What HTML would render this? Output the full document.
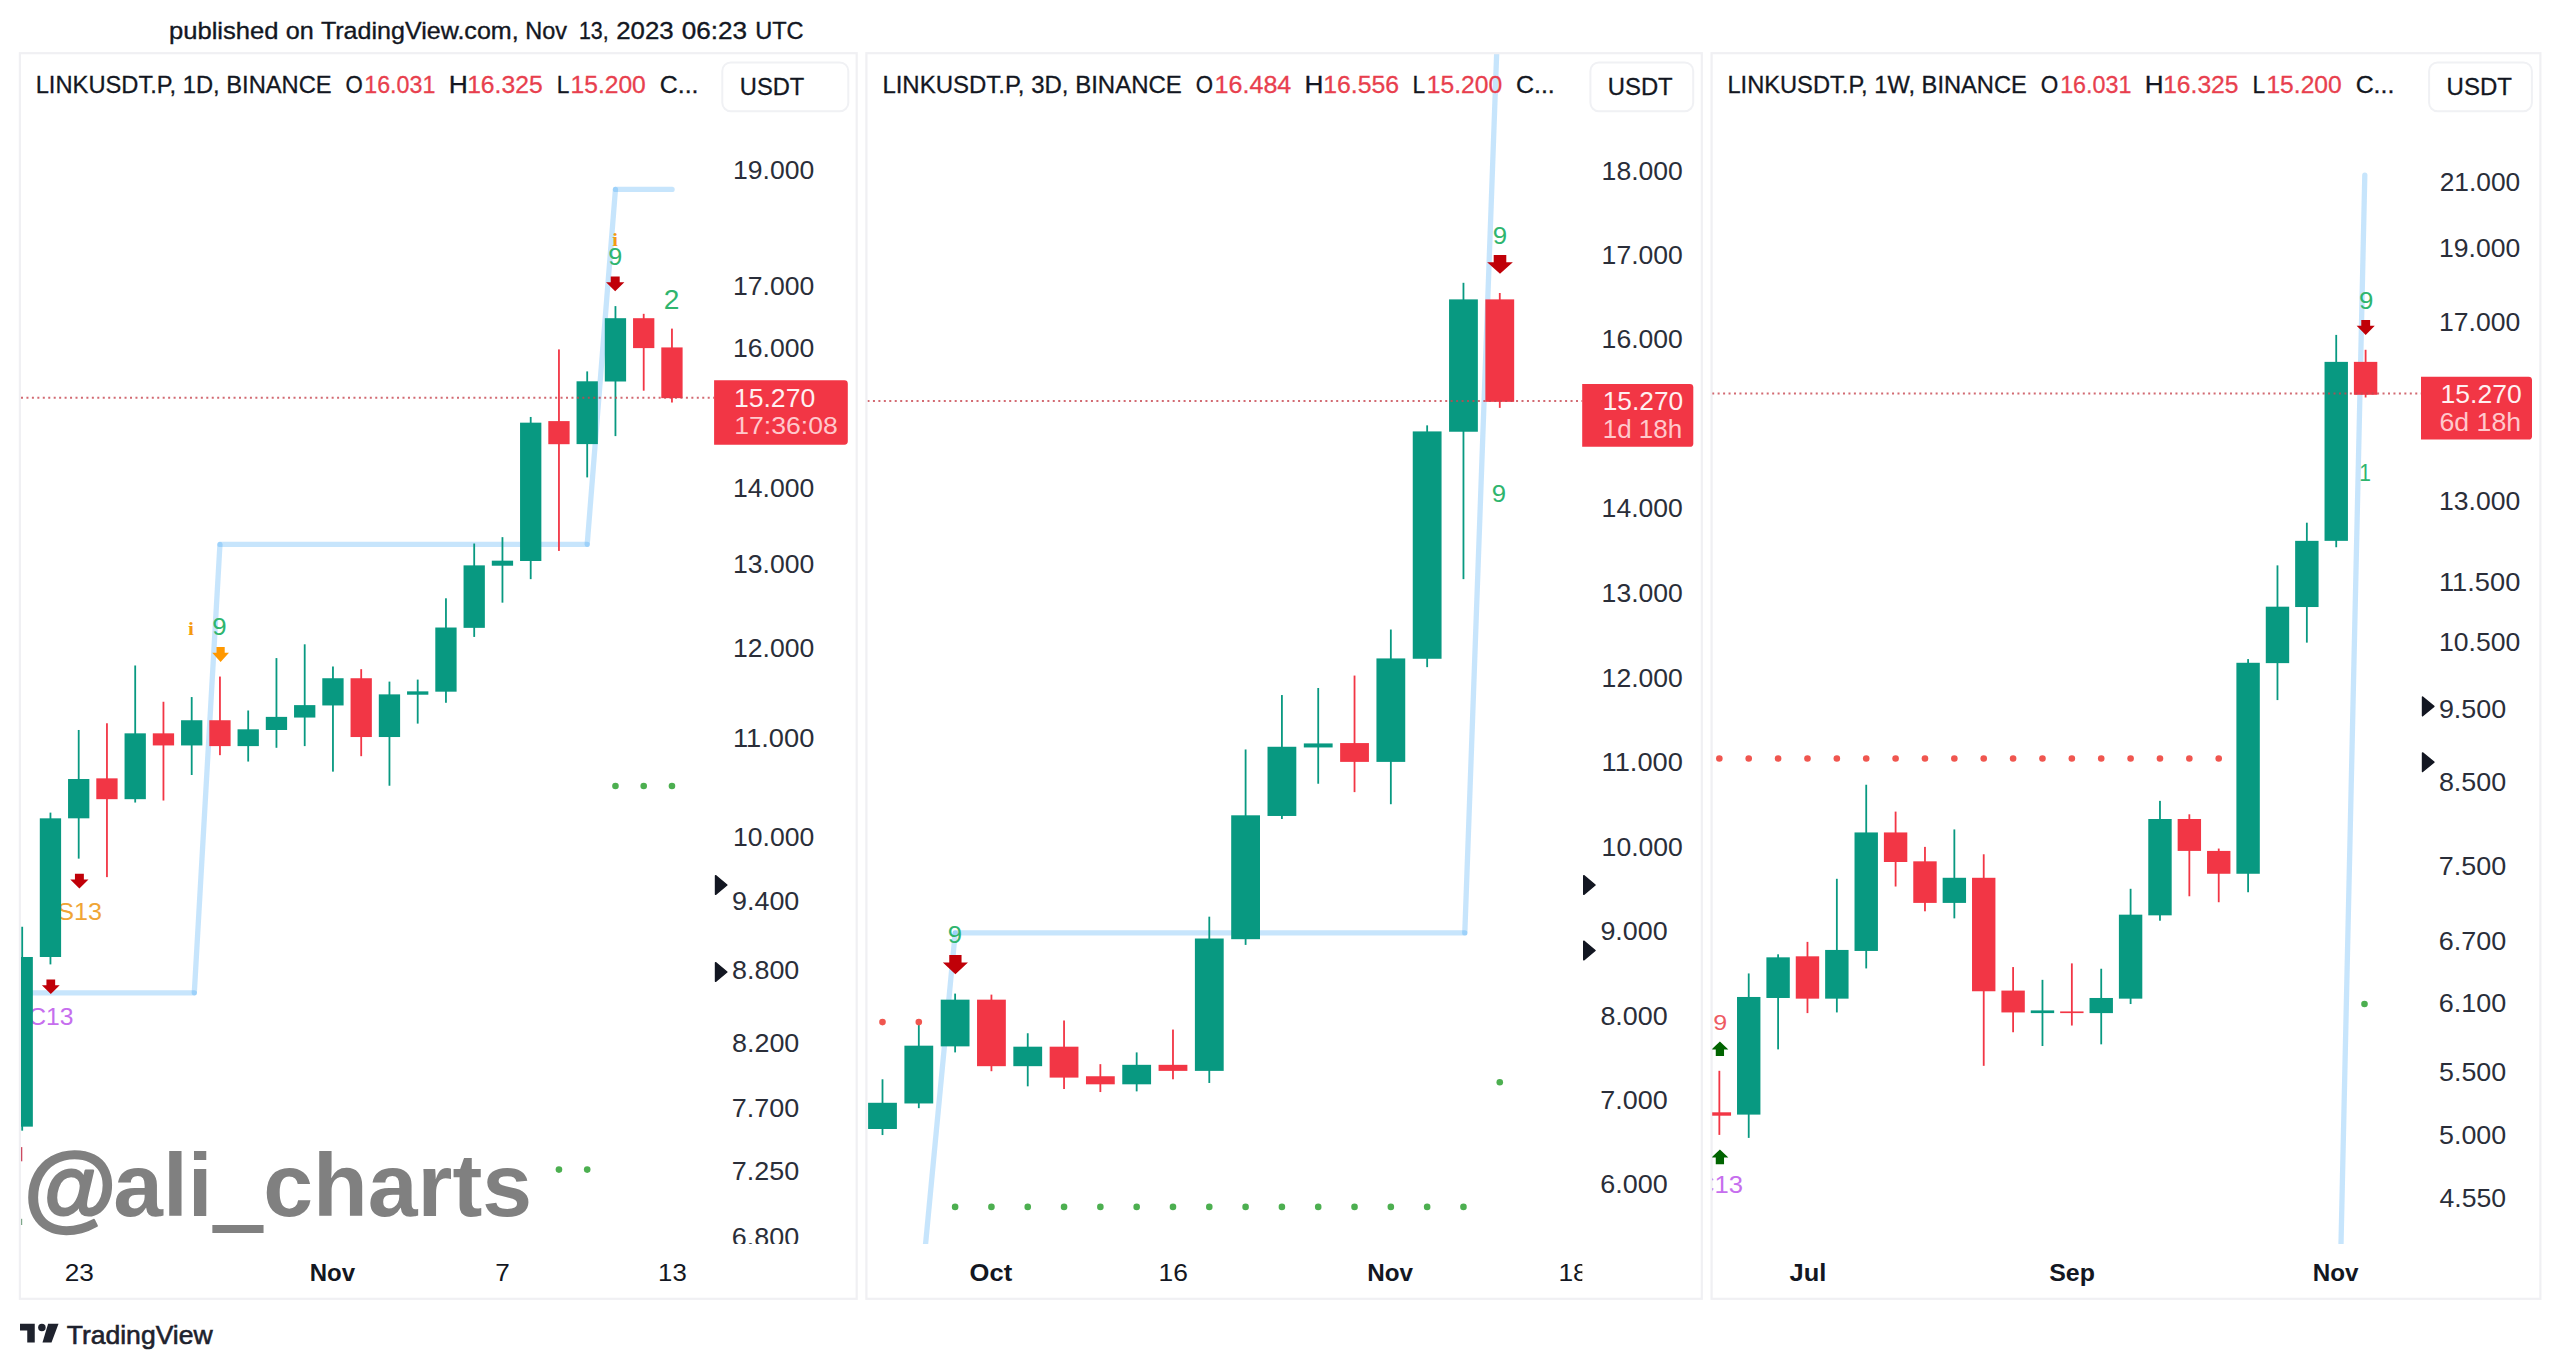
<!DOCTYPE html>
<html lang="en"><head><meta charset="utf-8"><title>LINKUSDT.P charts</title>
<style>html,body{margin:0;padding:0;background:#fff}body{width:2560px;height:1369px;overflow:hidden}svg{display:block}</style>
</head><body>
<svg width="2560" height="1369" viewBox="0 0 2560 1369" font-family="'Liberation Sans', Arial, Helvetica, sans-serif">
<rect width="2560" height="1369" fill="#fff"/>
<defs>
<clipPath id="c1"><rect x="21" y="54.2" width="834.6" height="1189.8"/></clipPath>
<clipPath id="c2"><rect x="867.5" y="54.2" width="833.2" height="1189.8"/></clipPath>
<clipPath id="c3"><rect x="1712.2" y="54.2" width="827.2" height="1189.8"/></clipPath>
<clipPath id="t2"><rect x="867" y="1250" width="715.3" height="46"/></clipPath>
</defs>
<text y="38.95" font-size="23.7" stroke-width="0.35"><tspan x="168.94" textLength="109.67" lengthAdjust="spacingAndGlyphs" fill="#131722" stroke="#131722">published</tspan> <tspan x="285.79" textLength="28" lengthAdjust="spacingAndGlyphs" fill="#131722" stroke="#131722">on</tspan> <tspan x="320.9" textLength="197.8" lengthAdjust="spacingAndGlyphs" fill="#131722" stroke="#131722">TradingView.com,</tspan> <tspan x="525.32" textLength="41.76" lengthAdjust="spacingAndGlyphs" fill="#131722" stroke="#131722">Nov</tspan> <tspan x="578.94" textLength="29.65" lengthAdjust="spacingAndGlyphs" fill="#131722" stroke="#131722">13,</tspan> <tspan x="616.21" textLength="57.41" lengthAdjust="spacingAndGlyphs" fill="#131722" stroke="#131722">2023</tspan> <tspan x="681.81" textLength="65.24" lengthAdjust="spacingAndGlyphs" fill="#131722" stroke="#131722">06:23</tspan> <tspan x="755.13" textLength="48.45" lengthAdjust="spacingAndGlyphs" fill="#131722" stroke="#131722">UTC</tspan></text>
<rect x="19.9" y="53.2" width="836.8" height="1245.6" fill="#fff" stroke="#F0F0F3" stroke-width="2.2"/>
<g clip-path="url(#c1)">
<line x1="20" y1="992.8" x2="194.3" y2="992.8" stroke="#2196F3" stroke-opacity="0.25" stroke-width="5.3" stroke-linecap="round"/>
<line x1="194.3" y1="992.8" x2="219.95" y2="544.4" stroke="#2196F3" stroke-opacity="0.25" stroke-width="5.3" stroke-linecap="round"/>
<line x1="219.95" y1="544.4" x2="587.2" y2="544.4" stroke="#2196F3" stroke-opacity="0.25" stroke-width="5.3" stroke-linecap="round"/>
<line x1="587.2" y1="544.4" x2="615.45" y2="189.4" stroke="#2196F3" stroke-opacity="0.25" stroke-width="5.3" stroke-linecap="round"/>
<line x1="615.45" y1="189.4" x2="672.05" y2="189.4" stroke="#2196F3" stroke-opacity="0.25" stroke-width="5.3" stroke-linecap="round"/>
<text transform="translate(57.27 919.56) scale(1.0460 1)" font-size="24.08" fill="#F0A535">S13</text>
<text transform="translate(28.27 1024.76) scale(1.0255 1)" font-size="24.08" fill="#C66EEE">C13</text>
<rect x="21.3" y="926.76" width="1.8" height="203.91" fill="#089981"/>
<rect x="11.55" y="956.99" width="21.3" height="169.65" fill="#089981"/>
<rect x="49.55" y="812.62" width="1.8" height="151.77" fill="#089981"/>
<rect x="39.8" y="818.33" width="21.3" height="138.66" fill="#089981"/>
<rect x="77.8" y="729.98" width="1.8" height="128.66" fill="#089981"/>
<rect x="68.05" y="779.02" width="21.3" height="39.3" fill="#089981"/>
<rect x="106.05" y="723.26" width="1.8" height="153.86" fill="#F23645"/>
<rect x="96.3" y="778.35" width="21.3" height="20.83" fill="#F23645"/>
<rect x="134.3" y="665.48" width="1.8" height="137.06" fill="#089981"/>
<rect x="124.55" y="733.34" width="21.3" height="65.84" fill="#089981"/>
<rect x="162.55" y="701.76" width="1.8" height="98.77" fill="#F23645"/>
<rect x="152.8" y="733.34" width="21.3" height="12.09" fill="#F23645"/>
<rect x="190.8" y="697.06" width="1.8" height="77.94" fill="#089981"/>
<rect x="181.05" y="720.24" width="21.3" height="25.2" fill="#089981"/>
<rect x="219.05" y="676.56" width="1.8" height="78.61" fill="#F23645"/>
<rect x="209.3" y="720.24" width="21.3" height="25.87" fill="#F23645"/>
<rect x="247.3" y="710.49" width="1.8" height="51.06" fill="#089981"/>
<rect x="237.55" y="729.31" width="21.3" height="16.8" fill="#089981"/>
<rect x="275.55" y="658.09" width="1.8" height="89.7" fill="#089981"/>
<rect x="265.8" y="716.88" width="21.3" height="13.1" fill="#089981"/>
<rect x="303.8" y="644.31" width="1.8" height="101.79" fill="#089981"/>
<rect x="294.05" y="705.12" width="21.3" height="12.43" fill="#089981"/>
<rect x="332.05" y="666.49" width="1.8" height="105.15" fill="#089981"/>
<rect x="322.3" y="678.24" width="21.3" height="27.21" fill="#089981"/>
<rect x="360.3" y="669.17" width="1.8" height="87.01" fill="#F23645"/>
<rect x="350.55" y="678.24" width="21.3" height="58.79" fill="#F23645"/>
<rect x="388.55" y="681.6" width="1.8" height="104.14" fill="#089981"/>
<rect x="378.8" y="694.37" width="21.3" height="42.66" fill="#089981"/>
<rect x="416.8" y="679.59" width="1.8" height="44.01" fill="#089981"/>
<rect x="407.05" y="691.35" width="21.3" height="3.36" fill="#089981"/>
<rect x="445.05" y="598.29" width="1.8" height="104.48" fill="#089981"/>
<rect x="435.3" y="627.52" width="21.3" height="64.16" fill="#089981"/>
<rect x="473.3" y="543.53" width="1.8" height="93.39" fill="#089981"/>
<rect x="463.55" y="565.37" width="21.3" height="62.48" fill="#089981"/>
<rect x="501.55" y="537.15" width="1.8" height="65.51" fill="#089981"/>
<rect x="491.8" y="560.67" width="21.3" height="5.04" fill="#089981"/>
<rect x="529.8" y="416.96" width="1.8" height="162.18" fill="#089981"/>
<rect x="520.05" y="422.67" width="21.3" height="138.33" fill="#089981"/>
<rect x="558.05" y="349.4" width="1.8" height="201.52" fill="#F23645"/>
<rect x="548.3" y="421.1" width="21.3" height="23.1" fill="#F23645"/>
<rect x="586.3" y="371.4" width="1.8" height="106" fill="#089981"/>
<rect x="576.55" y="381.3" width="21.3" height="62.8" fill="#089981"/>
<rect x="614.55" y="306.1" width="1.8" height="130" fill="#089981"/>
<rect x="604.8" y="318.2" width="21.3" height="63.3" fill="#089981"/>
<rect x="642.8" y="313.83" width="1.8" height="76.87" fill="#F23645"/>
<rect x="633.05" y="318.2" width="21.3" height="29.9" fill="#F23645"/>
<rect x="671.05" y="328.61" width="1.8" height="73.91" fill="#F23645"/>
<rect x="661.3" y="347.42" width="21.3" height="50.73" fill="#F23645"/>
<rect x="20.9" y="1147.1" width="1.4" height="14.2" fill="#CC4A60"/>
<rect x="20.9" y="1218.8" width="1.3" height="6.2" fill="#7FA88A"/>
<path d="M74.94 873.8 h8.92 v5.69 h4.64 L79.4 888.4 L70.3 879.49 h4.64 z" fill="#C00008"/>
<path d="M46.44 979.4 h8.72 v5.73 h4.54 L50.8 994.1 L41.9 985.13 h4.54 z" fill="#C00008"/>
<path d="M216.48 647.1 h8.23 v5.77 h4.28 L220.6 661.9 L212.2 652.87 h4.28 z" fill="#FF9800"/>
<path d="M610.72 276.4 h8.97 v5.77 h4.67 L615.2 291.2 L606.05 282.17 h4.67 z" fill="#C00008"/>
<text transform="translate(212.14 635.06) scale(1.0842 1)" font-size="23.8" fill="#2FB56E">9</text>
<text transform="translate(608.17 265.46) scale(1.0634 1)" font-size="23.66" fill="#2FB56E">9</text>
<text transform="translate(663.79 308.7) scale(0.9996 1)" font-size="28.14" fill="#2FB56E">2</text>
<text transform="translate(188.08 635.3) scale(1.1000 1)" font-size="19.28" fill="#F59A10" font-weight="bold" font-family="'Liberation Serif', 'Times New Roman', serif">i</text>
<text transform="translate(612.31 245.6) scale(1.1000 1)" font-size="18.42" fill="#F59A10" font-weight="bold" font-family="'Liberation Serif', 'Times New Roman', serif">i</text>
<circle cx="615.45" cy="786" r="3.3" fill="#4CAF50"/>
<circle cx="643.7" cy="786" r="3.3" fill="#4CAF50"/>
<circle cx="671.95" cy="786" r="3.3" fill="#4CAF50"/>
<circle cx="558.95" cy="1169.6" r="3.3" fill="#4CAF50"/>
<circle cx="587.2" cy="1169.6" r="3.3" fill="#4CAF50"/>
<line x1="21" y1="397.7" x2="714.1" y2="397.7" stroke="#C8454F" stroke-width="2" stroke-dasharray="2 3.45" opacity="0.8"/>
<text transform="translate(733.01 179.15) scale(1.0601 1)" font-size="25.07" fill="#2A2E39">19.000</text>
<text transform="translate(733.01 295.25) scale(1.0601 1)" font-size="25.07" fill="#2A2E39">17.000</text>
<text transform="translate(733.01 357.45) scale(1.0601 1)" font-size="25.07" fill="#2A2E39">16.000</text>
<text transform="translate(733.01 496.85) scale(1.0601 1)" font-size="25.07" fill="#2A2E39">14.000</text>
<text transform="translate(733.01 573.45) scale(1.0601 1)" font-size="25.07" fill="#2A2E39">13.000</text>
<text transform="translate(733.01 656.75) scale(1.0601 1)" font-size="25.07" fill="#2A2E39">12.000</text>
<text transform="translate(732.95 747.15) scale(1.0877 1)" font-size="25.07" fill="#2A2E39">11.000</text>
<text transform="translate(733.01 845.55) scale(1.0601 1)" font-size="25.07" fill="#2A2E39">10.000</text>
<text transform="translate(731.99 909.75) scale(1.0730 1)" font-size="25.07" fill="#2A2E39">9.400</text>
<text transform="translate(731.99 978.55) scale(1.0730 1)" font-size="25.07" fill="#2A2E39">8.800</text>
<text transform="translate(731.99 1051.75) scale(1.0730 1)" font-size="25.07" fill="#2A2E39">8.200</text>
<text transform="translate(731.85 1116.55) scale(1.0752 1)" font-size="25.07" fill="#2A2E39">7.700</text>
<text transform="translate(731.85 1179.75) scale(1.0752 1)" font-size="25.07" fill="#2A2E39">7.250</text>
<text transform="translate(731.85 1246.25) scale(1.0752 1)" font-size="25.07" fill="#2A2E39">6.800</text>
<path d="M715.55 875.7 L726.85 885 L715.55 894.3 z" fill="#131722" stroke="#131722" stroke-width="1.5" stroke-linejoin="round"/>
<path d="M715.55 962.7 L726.85 972 L715.55 981.3 z" fill="#131722" stroke="#131722" stroke-width="1.5" stroke-linejoin="round"/>
</g>
<path d="M714.1 380.3 H844.4 a3.4 3.4 0 0 1 3.4 3.4 V441.3 a3.4 3.4 0 0 1 -3.4 3.4 H714.1 z" fill="#F23645"/>
<text transform="translate(733.9 406.64) scale(1.0409 1)" font-size="25.56" fill="#FFF0F1">15.270</text>
<text transform="translate(734.26 434.45) scale(1.0785 1)" font-size="24.65" fill="#FFC8CC">17:36:08</text>
<text y="92.5" font-size="24.7" stroke-width="0.3"><tspan x="35.7" textLength="295.96" lengthAdjust="spacingAndGlyphs" fill="#131722" stroke="#131722">LINKUSDT.P, 1D, BINANCE</tspan>  <tspan x="345.59" textLength="17.29" lengthAdjust="spacingAndGlyphs" fill="#131722" stroke="#131722">O</tspan><tspan x="364.26" textLength="71.06" lengthAdjust="spacingAndGlyphs" fill="#E83F4E" stroke="#E83F4E">16.031</tspan>  <tspan x="448.89" textLength="19.09" lengthAdjust="spacingAndGlyphs" fill="#131722" stroke="#131722">H</tspan><tspan x="467.15" textLength="75.51" lengthAdjust="spacingAndGlyphs" fill="#E83F4E" stroke="#E83F4E">16.325</tspan>  <tspan x="556.68" textLength="12.62" lengthAdjust="spacingAndGlyphs" fill="#131722" stroke="#131722">L</tspan><tspan x="570.55" textLength="75.27" lengthAdjust="spacingAndGlyphs" fill="#E83F4E" stroke="#E83F4E">15.200</tspan>  <tspan x="659.76" textLength="38.7" lengthAdjust="spacingAndGlyphs" fill="#131722" stroke="#131722">C...</tspan></text>
<rect x="722.3" y="62.4" width="126" height="48.8" rx="8.5" ry="8.5" fill="#fff" stroke="#F0F1F4" stroke-width="2"/>
<text transform="translate(739.82 94.5) scale(0.9672 1)" font-size="24.5" fill="#131722" stroke="#131722" stroke-width="0.3">USDT</text>
<text transform="translate(64.69 1281.1) scale(1.0837 1)" font-size="24.2" fill="#131722">23</text>
<text transform="translate(309.69 1281.1) scale(1.0186 1)" font-size="23.6" fill="#131722" font-weight="bold">Nov</text>
<text transform="translate(495.29 1281.1) scale(1.0807 1)" font-size="24.2" fill="#131722">7</text>
<text transform="translate(658.07 1281.1) scale(1.0632 1)" font-size="24.2" fill="#131722">13</text>
<rect x="866.4" y="53.2" width="835.4" height="1245.6" fill="#fff" stroke="#F0F0F3" stroke-width="2.2"/>
<g clip-path="url(#c2)">
<line x1="918.9" y1="1314" x2="955.2" y2="932.9" stroke="#2196F3" stroke-opacity="0.25" stroke-width="5.3" stroke-linecap="round"/>
<line x1="955.2" y1="932.9" x2="1464.8" y2="932.9" stroke="#2196F3" stroke-opacity="0.25" stroke-width="5.3" stroke-linecap="round"/>
<line x1="1464.8" y1="932.9" x2="1499.7" y2="-30" stroke="#2196F3" stroke-opacity="0.25" stroke-width="5.3" stroke-linecap="round"/>
<rect x="881.6" y="1079.28" width="1.8" height="55.77" fill="#089981"/>
<rect x="868.1" y="1102.79" width="28.8" height="26.2" fill="#089981"/>
<rect x="917.91" y="1024.18" width="1.8" height="83.98" fill="#089981"/>
<rect x="904.41" y="1045.68" width="28.8" height="57.78" fill="#089981"/>
<rect x="954.22" y="993.61" width="1.8" height="58.79" fill="#089981"/>
<rect x="940.72" y="999.66" width="28.8" height="46.7" fill="#089981"/>
<rect x="990.53" y="994.62" width="1.8" height="76.59" fill="#F23645"/>
<rect x="977.03" y="999.66" width="28.8" height="66.52" fill="#F23645"/>
<rect x="1026.84" y="1033.25" width="1.8" height="53.08" fill="#089981"/>
<rect x="1013.34" y="1046.69" width="28.8" height="19.48" fill="#089981"/>
<rect x="1063.15" y="1020.49" width="1.8" height="68.53" fill="#F23645"/>
<rect x="1049.65" y="1046.69" width="28.8" height="30.91" fill="#F23645"/>
<rect x="1099.46" y="1064.16" width="1.8" height="27.88" fill="#F23645"/>
<rect x="1085.96" y="1076.25" width="28.8" height="8.06" fill="#F23645"/>
<rect x="1135.77" y="1052.4" width="1.8" height="38.97" fill="#089981"/>
<rect x="1122.27" y="1064.83" width="28.8" height="19.48" fill="#089981"/>
<rect x="1172.08" y="1029.56" width="1.8" height="49.72" fill="#F23645"/>
<rect x="1158.58" y="1064.83" width="28.8" height="6.05" fill="#F23645"/>
<rect x="1208.39" y="916.68" width="1.8" height="166.29" fill="#089981"/>
<rect x="1194.89" y="938.52" width="28.8" height="132.36" fill="#089981"/>
<rect x="1244.7" y="749.46" width="1.8" height="195.44" fill="#089981"/>
<rect x="1231.2" y="815.31" width="28.8" height="123.88" fill="#089981"/>
<rect x="1281.01" y="695.04" width="1.8" height="123.96" fill="#089981"/>
<rect x="1267.51" y="746.77" width="28.8" height="69.2" fill="#089981"/>
<rect x="1317.32" y="687.99" width="1.8" height="95.74" fill="#089981"/>
<rect x="1303.82" y="743.42" width="28.8" height="4.03" fill="#089981"/>
<rect x="1353.63" y="675.56" width="1.8" height="116.57" fill="#F23645"/>
<rect x="1340.13" y="743.08" width="28.8" height="18.81" fill="#F23645"/>
<rect x="1389.94" y="629.53" width="1.8" height="174.69" fill="#089981"/>
<rect x="1376.44" y="658.42" width="28.8" height="103.47" fill="#089981"/>
<rect x="1426.25" y="425.36" width="1.8" height="241.8" fill="#089981"/>
<rect x="1412.75" y="431.41" width="28.8" height="227.35" fill="#089981"/>
<rect x="1462.56" y="282.8" width="1.8" height="296.34" fill="#089981"/>
<rect x="1449.06" y="299.38" width="28.8" height="132.36" fill="#089981"/>
<rect x="1498.87" y="293" width="1.8" height="114.89" fill="#F23645"/>
<rect x="1485.37" y="299.38" width="28.8" height="102.46" fill="#F23645"/>
<text transform="translate(947.76 942.77) scale(1.1000 1)" font-size="23.38" fill="#2FB56E">9</text>
<path d="M949.25 955.1 h12.3 v7.49 h6.4 L955.4 974.3 L942.85 962.59 h6.4 z" fill="#C00008"/>
<path d="M1493.7 255 h12.59 v7.29 h6.55 L1500 273.7 L1487.15 262.29 h6.55 z" fill="#C00008"/>
<text transform="translate(1492.74 243.66) scale(1.0842 1)" font-size="23.8" fill="#2FB56E">9</text>
<text transform="translate(1491.81 502.37) scale(1.1000 1)" font-size="23.38" fill="#2FB56E">9</text>
<circle cx="882.5" cy="1022.1" r="3.3" fill="#F0564F"/>
<circle cx="918.81" cy="1022.1" r="3.3" fill="#F0564F"/>
<circle cx="955.12" cy="1206.9" r="3.3" fill="#4CAF50"/>
<circle cx="991.43" cy="1206.9" r="3.3" fill="#4CAF50"/>
<circle cx="1027.74" cy="1206.9" r="3.3" fill="#4CAF50"/>
<circle cx="1064.05" cy="1206.9" r="3.3" fill="#4CAF50"/>
<circle cx="1100.36" cy="1206.9" r="3.3" fill="#4CAF50"/>
<circle cx="1136.67" cy="1206.9" r="3.3" fill="#4CAF50"/>
<circle cx="1172.98" cy="1206.9" r="3.3" fill="#4CAF50"/>
<circle cx="1209.29" cy="1206.9" r="3.3" fill="#4CAF50"/>
<circle cx="1245.6" cy="1206.9" r="3.3" fill="#4CAF50"/>
<circle cx="1281.91" cy="1206.9" r="3.3" fill="#4CAF50"/>
<circle cx="1318.22" cy="1206.9" r="3.3" fill="#4CAF50"/>
<circle cx="1354.53" cy="1206.9" r="3.3" fill="#4CAF50"/>
<circle cx="1390.84" cy="1206.9" r="3.3" fill="#4CAF50"/>
<circle cx="1427.15" cy="1206.9" r="3.3" fill="#4CAF50"/>
<circle cx="1463.46" cy="1206.9" r="3.3" fill="#4CAF50"/>
<circle cx="1499.77" cy="1082.2" r="3.3" fill="#4CAF50"/>
<line x1="867.5" y1="400.9" x2="1582.2" y2="400.9" stroke="#C8454F" stroke-width="2" stroke-dasharray="2 3.45" opacity="0.8"/>
<text transform="translate(1601.61 180.15) scale(1.0601 1)" font-size="25.07" fill="#2A2E39">18.000</text>
<text transform="translate(1601.61 264.45) scale(1.0601 1)" font-size="25.07" fill="#2A2E39">17.000</text>
<text transform="translate(1601.61 348.45) scale(1.0601 1)" font-size="25.07" fill="#2A2E39">16.000</text>
<text transform="translate(1601.61 516.95) scale(1.0601 1)" font-size="25.07" fill="#2A2E39">14.000</text>
<text transform="translate(1601.61 602.35) scale(1.0601 1)" font-size="25.07" fill="#2A2E39">13.000</text>
<text transform="translate(1601.61 686.65) scale(1.0601 1)" font-size="25.07" fill="#2A2E39">12.000</text>
<text transform="translate(1601.55 771.25) scale(1.0877 1)" font-size="25.07" fill="#2A2E39">11.000</text>
<text transform="translate(1601.61 855.65) scale(1.0601 1)" font-size="25.07" fill="#2A2E39">10.000</text>
<text transform="translate(1600.39 940.15) scale(1.0730 1)" font-size="25.07" fill="#2A2E39">9.000</text>
<text transform="translate(1600.39 1024.85) scale(1.0730 1)" font-size="25.07" fill="#2A2E39">8.000</text>
<text transform="translate(1600.25 1109.15) scale(1.0752 1)" font-size="25.07" fill="#2A2E39">7.000</text>
<text transform="translate(1600.25 1193.45) scale(1.0752 1)" font-size="25.07" fill="#2A2E39">6.000</text>
<path d="M1583.75 875.7 L1595.05 885 L1583.75 894.3 z" fill="#131722" stroke="#131722" stroke-width="1.5" stroke-linejoin="round"/>
<path d="M1583.75 941.2 L1595.05 950.5 L1583.75 959.8 z" fill="#131722" stroke="#131722" stroke-width="1.5" stroke-linejoin="round"/>
</g>
<path d="M1582.2 384 H1689.9 a3.4 3.4 0 0 1 3.4 3.4 V443.4 a3.4 3.4 0 0 1 -3.4 3.4 H1582.2 z" fill="#F23645"/>
<text transform="translate(1602.73 410.14) scale(1.0150 1)" font-size="25.92" fill="#FFF0F1">15.270</text>
<text transform="translate(1602.75 438.14) scale(1.0162 1)" font-size="25.58" fill="#FFC8CC">1d 18h</text>
<text y="92.5" font-size="24.7" stroke-width="0.3"><tspan x="882.38" textLength="299.39" lengthAdjust="spacingAndGlyphs" fill="#131722" stroke="#131722">LINKUSDT.P, 3D, BINANCE</tspan>  <tspan x="1195.64" textLength="17.29" lengthAdjust="spacingAndGlyphs" fill="#131722" stroke="#131722">O</tspan><tspan x="1214.62" textLength="76.7" lengthAdjust="spacingAndGlyphs" fill="#E83F4E" stroke="#E83F4E">16.484</tspan>  <tspan x="1304.4" textLength="18.96" lengthAdjust="spacingAndGlyphs" fill="#131722" stroke="#131722">H</tspan><tspan x="1323.14" textLength="75.92" lengthAdjust="spacingAndGlyphs" fill="#E83F4E" stroke="#E83F4E">16.556</tspan>  <tspan x="1412.58" textLength="12.62" lengthAdjust="spacingAndGlyphs" fill="#131722" stroke="#131722">L</tspan><tspan x="1426.85" textLength="75.38" lengthAdjust="spacingAndGlyphs" fill="#E83F4E" stroke="#E83F4E">15.200</tspan>  <tspan x="1515.95" textLength="38.81" lengthAdjust="spacingAndGlyphs" fill="#131722" stroke="#131722">C...</tspan></text>
<rect x="1590.4" y="62.4" width="102.8" height="48.8" rx="8.5" ry="8.5" fill="#fff" stroke="#F0F1F4" stroke-width="2"/>
<text transform="translate(1607.81 94.5) scale(0.9734 1)" font-size="24.5" fill="#131722" stroke="#131722" stroke-width="0.3">USDT</text>
<g clip-path="url(#t2)">
<text transform="translate(969.58 1281.1) scale(1.0836 1)" font-size="23.6" fill="#131722" font-weight="bold">Oct</text>
<text transform="translate(1158.62 1281.1) scale(1.0922 1)" font-size="24.2" fill="#131722">16</text>
<text transform="translate(1367.17 1281.1) scale(1.0279 1)" font-size="23.6" fill="#131722" font-weight="bold">Nov</text>
<text transform="translate(1558.42 1281.1) scale(1.0922 1)" font-size="24.2" fill="#131722">18</text>
</g>
<rect x="1711.6" y="53.2" width="828.8" height="1245.6" fill="#fff" stroke="#F0F0F3" stroke-width="2.2"/>
<g clip-path="url(#c3)">
<line x1="2340.6" y1="1262" x2="2364.8" y2="175.2" stroke="#2196F3" stroke-opacity="0.25" stroke-width="5.3" stroke-linecap="round"/>
<text transform="translate(1696.12 1193.16) scale(1.0574 1)" font-size="24.23" fill="#C66EEE">C13</text>
<text transform="translate(1713.18 1030.47) scale(1.1000 1)" font-size="22.68" fill="#EE5A62">9</text>
<rect x="1718.45" y="1070.8" width="1.8" height="64.1" fill="#F23645"/>
<rect x="1707.65" y="1112.3" width="23.4" height="3.4" fill="#F23645"/>
<rect x="1747.82" y="973.45" width="1.8" height="164.45" fill="#089981"/>
<rect x="1737.02" y="996.97" width="23.4" height="117.63" fill="#089981"/>
<rect x="1777.2" y="954.31" width="1.8" height="95.07" fill="#089981"/>
<rect x="1766.4" y="957.33" width="23.4" height="40.65" fill="#089981"/>
<rect x="1806.57" y="941.88" width="1.8" height="71.22" fill="#F23645"/>
<rect x="1795.77" y="956.32" width="23.4" height="42.33" fill="#F23645"/>
<rect x="1835.95" y="878.8" width="1.8" height="133.62" fill="#089981"/>
<rect x="1825.15" y="949.94" width="23.4" height="48.71" fill="#089981"/>
<rect x="1865.32" y="784.74" width="1.8" height="183.68" fill="#089981"/>
<rect x="1854.52" y="832.44" width="23.4" height="118.51" fill="#089981"/>
<rect x="1894.7" y="811.61" width="1.8" height="74.91" fill="#F23645"/>
<rect x="1883.9" y="832.44" width="23.4" height="29.56" fill="#F23645"/>
<rect x="1924.07" y="846.88" width="1.8" height="64.42" fill="#F23645"/>
<rect x="1913.27" y="861.33" width="23.4" height="41.58" fill="#F23645"/>
<rect x="1953.45" y="829.42" width="1.8" height="88.95" fill="#089981"/>
<rect x="1942.65" y="877.79" width="23.4" height="25.12" fill="#089981"/>
<rect x="1982.82" y="854.27" width="1.8" height="211.56" fill="#F23645"/>
<rect x="1972.02" y="877.79" width="23.4" height="113.47" fill="#F23645"/>
<rect x="2012.2" y="967.07" width="1.8" height="65.17" fill="#F23645"/>
<rect x="2001.4" y="990.59" width="23.4" height="21.84" fill="#F23645"/>
<rect x="2041.57" y="979.84" width="1.8" height="66.18" fill="#089981"/>
<rect x="2030.77" y="1010.41" width="23.4" height="2.69" fill="#089981"/>
<rect x="2070.95" y="963.38" width="1.8" height="62.15" fill="#F23645"/>
<rect x="2060.15" y="1011.42" width="23.4" height="1.68" fill="#F23645"/>
<rect x="2100.32" y="968.75" width="1.8" height="75.59" fill="#089981"/>
<rect x="2089.53" y="997.98" width="23.4" height="15.12" fill="#089981"/>
<rect x="2129.7" y="888.8" width="1.8" height="115.23" fill="#089981"/>
<rect x="2118.9" y="914.67" width="23.4" height="83.98" fill="#089981"/>
<rect x="2159.07" y="800.86" width="1.8" height="119.85" fill="#089981"/>
<rect x="2148.28" y="819" width="23.4" height="96.34" fill="#089981"/>
<rect x="2188.45" y="814.3" width="1.8" height="81.97" fill="#F23645"/>
<rect x="2177.65" y="819" width="23.4" height="31.91" fill="#F23645"/>
<rect x="2217.82" y="848.56" width="1.8" height="53.67" fill="#F23645"/>
<rect x="2207.03" y="850.92" width="23.4" height="22.84" fill="#F23645"/>
<rect x="2247.2" y="659.1" width="1.8" height="233.14" fill="#089981"/>
<rect x="2236.4" y="662.79" width="23.4" height="210.97" fill="#089981"/>
<rect x="2276.57" y="565.37" width="1.8" height="134.71" fill="#089981"/>
<rect x="2265.78" y="606.69" width="23.4" height="56.44" fill="#089981"/>
<rect x="2305.95" y="522.7" width="1.8" height="119.93" fill="#089981"/>
<rect x="2295.15" y="540.85" width="23.4" height="66.18" fill="#089981"/>
<rect x="2335.32" y="334.9" width="1.8" height="212.33" fill="#089981"/>
<rect x="2324.53" y="361.87" width="23.4" height="178.98" fill="#089981"/>
<rect x="2364.7" y="349.8" width="1.8" height="47.68" fill="#F23645"/>
<rect x="2353.9" y="361.87" width="23.4" height="32.92" fill="#F23645"/>
<path d="M1719.9 1041.4 L1728.35 1049.43 h-4.31 v6.57 h-8.28 v-6.57 h-4.31 z" fill="#006400"/>
<path d="M1719.9 1149.5 L1728.35 1157.59 h-4.31 v6.61 h-8.28 v-6.61 h-4.31 z" fill="#006400"/>
<path d="M2361.27 320 h8.87 v5.81 h4.62 L2365.7 334.9 L2356.65 325.81 h4.62 z" fill="#C00008"/>
<text transform="translate(2358.94 308.66) scale(1.0653 1)" font-size="24.23" fill="#2FB56E">9</text>
<text transform="translate(2359.16 480.6) scale(0.9000 1)" font-size="23.33" fill="#2FB56E">1</text>
<circle cx="1719.35" cy="758.5" r="3.3" fill="#F0564F"/>
<circle cx="1748.72" cy="758.5" r="3.3" fill="#F0564F"/>
<circle cx="1778.1" cy="758.5" r="3.3" fill="#F0564F"/>
<circle cx="1807.47" cy="758.5" r="3.3" fill="#F0564F"/>
<circle cx="1836.85" cy="758.5" r="3.3" fill="#F0564F"/>
<circle cx="1866.22" cy="758.5" r="3.3" fill="#F0564F"/>
<circle cx="1895.6" cy="758.5" r="3.3" fill="#F0564F"/>
<circle cx="1924.97" cy="758.5" r="3.3" fill="#F0564F"/>
<circle cx="1954.35" cy="758.5" r="3.3" fill="#F0564F"/>
<circle cx="1983.72" cy="758.5" r="3.3" fill="#F0564F"/>
<circle cx="2013.1" cy="758.5" r="3.3" fill="#F0564F"/>
<circle cx="2042.47" cy="758.5" r="3.3" fill="#F0564F"/>
<circle cx="2071.85" cy="758.5" r="3.3" fill="#F0564F"/>
<circle cx="2101.22" cy="758.5" r="3.3" fill="#F0564F"/>
<circle cx="2130.6" cy="758.5" r="3.3" fill="#F0564F"/>
<circle cx="2159.97" cy="758.5" r="3.3" fill="#F0564F"/>
<circle cx="2189.35" cy="758.5" r="3.3" fill="#F0564F"/>
<circle cx="2218.72" cy="758.5" r="3.3" fill="#F0564F"/>
<circle cx="2364.5" cy="1004" r="3.3" fill="#4CAF50"/>
<line x1="1712.2" y1="393.6" x2="2421" y2="393.6" stroke="#C8454F" stroke-width="2" stroke-dasharray="2 3.45" opacity="0.8"/>
<text transform="translate(2439.68 191.25) scale(1.0512 1)" font-size="25.07" fill="#2A2E39">21.000</text>
<text transform="translate(2439.01 256.75) scale(1.0601 1)" font-size="25.07" fill="#2A2E39">19.000</text>
<text transform="translate(2439.01 331.25) scale(1.0601 1)" font-size="25.07" fill="#2A2E39">17.000</text>
<text transform="translate(2439.01 509.55) scale(1.0601 1)" font-size="25.07" fill="#2A2E39">13.000</text>
<text transform="translate(2438.95 590.85) scale(1.0877 1)" font-size="25.07" fill="#2A2E39">11.500</text>
<text transform="translate(2439.01 651.35) scale(1.0601 1)" font-size="25.07" fill="#2A2E39">10.500</text>
<text transform="translate(2438.89 717.55) scale(1.0730 1)" font-size="25.07" fill="#2A2E39">9.500</text>
<text transform="translate(2438.89 791.45) scale(1.0730 1)" font-size="25.07" fill="#2A2E39">8.500</text>
<text transform="translate(2438.75 874.75) scale(1.0752 1)" font-size="25.07" fill="#2A2E39">7.500</text>
<text transform="translate(2438.75 949.55) scale(1.0752 1)" font-size="25.07" fill="#2A2E39">6.700</text>
<text transform="translate(2438.75 1012.45) scale(1.0752 1)" font-size="25.07" fill="#2A2E39">6.100</text>
<text transform="translate(2439.03 1080.65) scale(1.0708 1)" font-size="25.07" fill="#2A2E39">5.500</text>
<text transform="translate(2439.03 1144.45) scale(1.0708 1)" font-size="25.07" fill="#2A2E39">5.000</text>
<text transform="translate(2439.57 1206.55) scale(1.0620 1)" font-size="25.07" fill="#2A2E39">4.550</text>
<path d="M2422.55 697.1 L2433.85 706.4 L2422.55 715.7 z" fill="#131722" stroke="#131722" stroke-width="1.5" stroke-linejoin="round"/>
<path d="M2422.55 752.9 L2433.85 762.2 L2422.55 771.5 z" fill="#131722" stroke="#131722" stroke-width="1.5" stroke-linejoin="round"/>
</g>
<path d="M2421 376.7 H2528.6 a3.4 3.4 0 0 1 3.4 3.4 V436.2 a3.4 3.4 0 0 1 -3.4 3.4 H2421 z" fill="#F23645"/>
<text transform="translate(2440.61 402.74) scale(1.0341 1)" font-size="25.63" fill="#FFF0F1">15.270</text>
<text transform="translate(2439.47 430.95) scale(1.0547 1)" font-size="25.31" fill="#FFC8CC">6d 18h</text>
<text y="92.5" font-size="24.7" stroke-width="0.3"><tspan x="1727.41" textLength="299.39" lengthAdjust="spacingAndGlyphs" fill="#131722" stroke="#131722">LINKUSDT.P, 1W, BINANCE</tspan>  <tspan x="2040.79" textLength="17.49" lengthAdjust="spacingAndGlyphs" fill="#131722" stroke="#131722">O</tspan><tspan x="2060.15" textLength="71.26" lengthAdjust="spacingAndGlyphs" fill="#E83F4E" stroke="#E83F4E">16.031</tspan>  <tspan x="2144.81" textLength="18.83" lengthAdjust="spacingAndGlyphs" fill="#131722" stroke="#131722">H</tspan><tspan x="2163.15" textLength="75.4" lengthAdjust="spacingAndGlyphs" fill="#E83F4E" stroke="#E83F4E">16.325</tspan>  <tspan x="2252.58" textLength="12.62" lengthAdjust="spacingAndGlyphs" fill="#131722" stroke="#131722">L</tspan><tspan x="2266.45" textLength="75.27" lengthAdjust="spacingAndGlyphs" fill="#E83F4E" stroke="#E83F4E">15.200</tspan>  <tspan x="2355.66" textLength="38.7" lengthAdjust="spacingAndGlyphs" fill="#131722" stroke="#131722">C...</tspan></text>
<rect x="2429.1" y="62.4" width="102.8" height="48.8" rx="8.5" ry="8.5" fill="#fff" stroke="#F0F1F4" stroke-width="2"/>
<text transform="translate(2446.6 94.5) scale(0.9796 1)" font-size="24.5" fill="#131722" stroke="#131722" stroke-width="0.3">USDT</text>
<text transform="translate(1789.62 1281.1) scale(1.0780 1)" font-size="23.6" fill="#131722" font-weight="bold">Jul</text>
<text transform="translate(2049.25 1281.1) scale(1.0563 1)" font-size="23.6" fill="#131722" font-weight="bold">Sep</text>
<text transform="translate(2312.83 1281.1) scale(1.0267 1)" font-size="23.6" fill="#131722" font-weight="bold">Nov</text>
<text font-weight="bold" fill="#808080"><tspan x="23.99" y="1218.81" font-size="94.94" textLength="92.44" lengthAdjust="spacingAndGlyphs" stroke="#808080" stroke-width="2.4" stroke-linejoin="round">@</tspan><tspan x="113.32" y="1215.6" font-size="89.5" textLength="99.35" lengthAdjust="spacingAndGlyphs">ali</tspan><tspan x="213.29" y="1207.45" font-size="210" textLength="49.52" lengthAdjust="spacingAndGlyphs">_</tspan><tspan x="263.22" y="1215.6" font-size="89.5" textLength="268.91" lengthAdjust="spacingAndGlyphs">charts</tspan></text>
<g fill="#1E222D">
<path d="M20 1323.75 H34.75 V1342.5 H27.25 V1330.6 H20 z"/>
<circle cx="41.9" cy="1327.5" r="3.75"/>
<path d="M48.1 1323.75 H58.5 L51.5 1342.5 H42.5 z"/>
</g>
<text transform="translate(66.67 1344.4) scale(1.0093 1)" font-size="26.3" fill="#1E222D" stroke="#1E222D" stroke-width="0.6">TradingView</text>
</svg>
</body></html>
